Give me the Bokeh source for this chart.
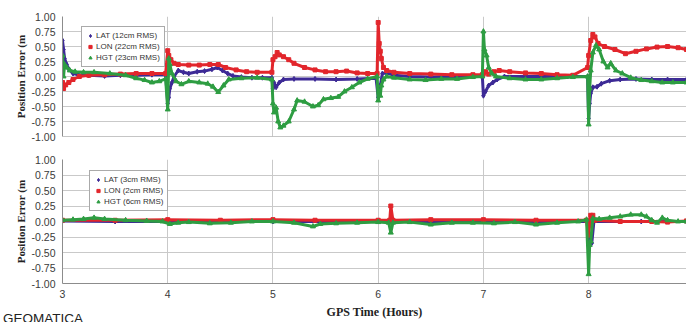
from bokeh.plotting import figure
from bokeh.layouts import column
from bokeh.models import FixedTicker, NumeralTickFormatter, Range1d, Legend, LegendItem, Span, Div
from bokeh.embed import file_html
from bokeh.resources import INLINE

# ---------------- data: top panel ----------------
t_lat_top = [3.00, 3.01, 3.02, 3.04, 3.06, 3.10, 3.15, 3.25, 3.40, 3.55, 3.70, 3.85, 3.98,
             4.00, 4.01, 4.02, 4.04, 4.06, 4.10, 4.15, 4.20, 4.28, 4.35, 4.42, 4.47, 4.52, 4.57, 4.62, 4.70, 4.80, 4.90, 4.99,
             5.00, 5.01, 5.03, 5.06, 5.10, 5.20, 5.40, 5.60, 5.80, 5.98,
             6.00, 6.01, 6.02, 6.04, 6.08, 6.15, 6.30, 6.50, 6.70, 6.90, 6.99,
             7.00, 7.02, 7.05, 7.09, 7.13, 7.20, 7.40, 7.60, 7.80, 7.99,
             8.00, 8.01, 8.02, 8.04, 8.08, 8.12, 8.20, 8.30, 8.45, 8.60, 8.75, 8.93]
lat_top = [0.60, 0.45, 0.30, 0.20, 0.12, 0.05, 0.03, 0.02, 0.01, 0.02, 0.02, 0.03, 0.03,
           -0.45, -0.35, -0.20, -0.10, 0.00, 0.10, 0.07, 0.05, 0.08, 0.09, 0.12, 0.15, 0.10, 0.05, 0.01, -0.01, -0.02, -0.02, -0.02,
           -0.20, -0.10, -0.18, -0.10, -0.05, -0.04, -0.04, -0.05, -0.04, -0.03,
           -0.35, -0.28, -0.15, 0.05, 0.06, 0.02, 0.00, -0.01, 0.00, 0.00, 0.00,
           -0.32, -0.25, -0.15, -0.10, -0.05, 0.00, 0.00, 0.00, 0.00, 0.00,
           -0.70, -0.45, -0.28, -0.18, -0.17, -0.12, -0.07, -0.05, -0.04, -0.05, -0.05, -0.05]

t_lon_top = [3.00, 3.01, 3.03, 3.06, 3.10, 3.16, 3.25, 3.40, 3.55, 3.70, 3.85, 3.98,
             4.00, 4.01, 4.03, 4.06, 4.10, 4.20, 4.30, 4.40, 4.48, 4.55, 4.65, 4.75, 4.85, 4.99,
             5.00, 5.02, 5.04, 5.06, 5.10, 5.15, 5.20, 5.30, 5.40, 5.50, 5.60, 5.70, 5.80, 5.90, 5.99,
             6.00, 6.01, 6.02, 6.03, 6.05, 6.08, 6.15, 6.30, 6.50, 6.70, 6.90, 6.99,
             7.00, 7.02, 7.05, 7.10, 7.15, 7.25, 7.40, 7.55, 7.70, 7.85, 7.99,
             8.00, 8.02, 8.04, 8.06, 8.09, 8.15, 8.25, 8.35, 8.45, 8.55, 8.65, 8.75, 8.85, 8.93]
lon_top = [-0.10, -0.20, -0.14, -0.10, -0.05, 0.00, 0.02, 0.03, 0.04, 0.05, 0.05, 0.05,
           0.43, 0.35, 0.28, 0.22, 0.20, 0.19, 0.19, 0.20, 0.20, 0.15, 0.11, 0.08, 0.07, 0.07,
           0.28, 0.33, 0.40, 0.36, 0.33, 0.28, 0.22, 0.15, 0.11, 0.08, 0.08, 0.09, 0.06, 0.05, 0.05,
           0.90, 0.55, 0.42, 0.30, 0.15, 0.10, 0.07, 0.05, 0.04, 0.03, 0.03, 0.03,
           0.05, 0.08, 0.04, 0.08, 0.10, 0.08, 0.06, 0.05, 0.03, 0.02, 0.15,
           0.35, 0.60, 0.70, 0.66, 0.55, 0.50, 0.45, 0.38, 0.42, 0.46, 0.49, 0.50, 0.48, 0.45]

t_hgt_top = [3.00, 3.01, 3.02, 3.04, 3.07, 3.12, 3.20, 3.30, 3.45, 3.60, 3.70, 3.78, 3.85, 3.92, 3.98,
             4.00, 4.01, 4.02, 4.04, 4.08, 4.13, 4.20, 4.30, 4.38, 4.43, 4.48, 4.53, 4.58, 4.70, 4.85, 4.99,
             5.00, 5.01, 5.03, 5.05, 5.07, 5.10, 5.15, 5.20, 5.23, 5.30, 5.38, 5.43, 5.48, 5.55, 5.62, 5.68, 5.75, 5.82, 5.90, 5.99,
             6.00, 6.01, 6.02, 6.03, 6.05, 6.08, 6.15, 6.30, 6.45, 6.60, 6.75, 6.90, 6.99,
             7.00, 7.01, 7.03, 7.05, 7.08, 7.12, 7.25, 7.40, 7.55, 7.70, 7.85, 7.99,
             8.00, 8.01, 8.02, 8.04, 8.07, 8.10, 8.14, 8.18, 8.21, 8.26, 8.32, 8.40, 8.50, 8.60, 8.70, 8.80, 8.93]
hgt_top = [0.35, 0.00, 0.20, 0.15, 0.10, 0.08, 0.07, 0.07, 0.05, 0.02, -0.03, -0.06, -0.10, -0.08, -0.04,
           -0.55, 0.30, 0.20, 0.05, -0.08, -0.13, -0.08, -0.10, -0.12, -0.17, -0.26, -0.15, -0.05, -0.03, -0.02, -0.05,
           -0.45, -0.60, -0.52, -0.75, -0.85, -0.82, -0.75, -0.55, -0.40, -0.42, -0.50, -0.48, -0.38, -0.36, -0.34, -0.25, -0.18, -0.10, -0.04, 0.00,
           -0.40, -0.25, -0.32, -0.15, -0.05, 0.00, -0.02, -0.05, -0.06, -0.04, -0.04, -0.01, 0.00,
           0.75, 0.45, 0.35, 0.15, 0.05, 0.00, -0.03, -0.05, -0.05, -0.03, -0.01, 0.00,
           -0.80, -0.20, 0.10, 0.40, 0.52, 0.45, 0.25, 0.15, 0.22, 0.10, 0.05, -0.02, -0.06, -0.08, -0.10, -0.10, -0.10]

# ---------------- data: bottom panel ----------------
t_lat_bot = [3.00, 3.50, 4.00, 4.50, 5.00, 5.50, 6.00, 6.50, 7.00, 7.50, 7.99, 8.01, 8.02, 8.03, 8.05, 8.50, 8.93]
lat_bot = [0.01, 0.00, 0.00, 0.00, 0.00, 0.00, 0.00, 0.00, 0.00, 0.00, 0.00, -0.32, -0.28, -0.35, 0.00, 0.00, 0.00]

t_lon_bot = [3.00, 3.50, 4.00, 4.50, 5.00, 5.40, 6.00, 6.11, 6.12, 6.14, 6.50, 7.00, 7.50, 7.98,
             8.00, 8.02, 8.04, 8.06, 8.30, 8.60, 8.75, 8.93]
lon_bot = [0.02, 0.02, 0.03, 0.02, 0.03, 0.02, 0.02, 0.02, 0.25, 0.02, 0.03, 0.03, 0.02, 0.02,
           -0.22, 0.10, 0.10, 0.02, 0.00, 0.00, -0.01, 0.01]

t_hgt_bot = [3.00, 3.10, 3.20, 3.30, 3.40, 3.60, 3.80, 3.95, 4.02, 4.10, 4.20, 4.40, 4.60, 4.80, 5.00,
             5.20, 5.38, 5.45, 5.60, 5.80, 6.00, 6.10, 6.12, 6.14, 6.30, 6.50, 6.70, 6.90, 7.10, 7.30,
             7.50, 7.70, 7.90, 7.98, 8.00, 8.01, 8.02, 8.04, 8.10, 8.20, 8.30, 8.40, 8.50, 8.55, 8.60,
             8.65, 8.70, 8.75, 8.85, 8.93]
hgt_bot = [0.02, 0.03, 0.04, 0.06, 0.04, 0.02, 0.01, 0.00, -0.04, -0.02, -0.01, -0.03, -0.02, 0.00, 0.00,
           -0.02, -0.08, -0.04, -0.03, -0.02, -0.01, -0.02, -0.18, -0.02, -0.01, -0.05, -0.02, -0.02, -0.03, -0.01,
           -0.05, -0.02, 0.00, 0.03, -0.85, -0.38, -0.32, 0.05, 0.04, 0.06, 0.08, 0.11, 0.11, 0.08, 0.02,
           -0.02, 0.06, 0.02, 0.00, 0.00]

labels_top = ["LAT (12cm RMS)", "LON (22cm RMS)", "HGT (23cm RMS)"]
labels_bot = ["LAT (3cm RMS)", "LON (2cm RMS)", "HGT (6cm RMS)"]
x_ticks = [3, 4, 5, 6, 7, 8, 9]
y_ticks = [-1.0, -0.75, -0.5, -0.25, 0.0, 0.25, 0.5, 0.75, 1.0]

C_LAT = "#3d2a96"
C_LON = "#e2262c"
C_HGT = "#2e9d42"
GRID = "#c9c9c9"
AXIS = "#8c8c8c"


def make_panel(height, top, bottom, series, labels, leg_xy, show_x):
    p = figure(width=686, height=height, output_backend="svg", toolbar_location=None,
               x_range=Range1d(3, 8.93), y_range=Range1d(-1.0, 1.0),
               min_border_left=62, min_border_right=0, min_border_top=top, min_border_bottom=bottom)
    p.outline_line_color = None
    p.background_fill_color = "white"
    p.border_fill_color = "white"
    p.xaxis.ticker = FixedTicker(ticks=x_ticks)
    p.yaxis.ticker = FixedTicker(ticks=y_ticks)
    p.yaxis.formatter = NumeralTickFormatter(format="0.00")
    for ax in (p.xaxis[0], p.yaxis[0]):
        ax.axis_line_color = AXIS
        ax.axis_line_width = 1
        ax.major_tick_line_color = None
        ax.minor_tick_line_color = None
        ax.major_tick_out = 0
        ax.major_tick_in = 0
        ax.minor_tick_out = 0
        ax.minor_tick_in = 0
        ax.major_label_text_font = "Liberation Sans"
        ax.major_label_text_font_size = "10.5px"
        ax.major_label_text_color = "#3a3a3a"
    p.yaxis.major_label_standoff = 7
    p.yaxis.axis_label = "Position Error (m"
    p.yaxis.axis_label_text_font = "Liberation Serif"
    p.yaxis.axis_label_text_font_style = "bold"
    p.yaxis.axis_label_text_font_size = "11px"
    p.yaxis.axis_label_text_color = "#222222"
    p.yaxis.axis_label_standoff = 2
    if show_x:
        p.xaxis.major_label_standoff = 6
        p.xaxis.axis_label = "GPS Time (Hours)"
        p.xaxis.axis_label_text_font = "Liberation Serif"
        p.xaxis.axis_label_text_font_style = "bold"
        p.xaxis.axis_label_text_font_size = "12px"
        p.xaxis.axis_label_text_color = "#222222"
        p.xaxis.axis_label_standoff = 4
    else:
        p.xaxis.visible = False
        p.add_layout(Span(location=-1.0, dimension="width", line_color=AXIS, line_width=1))
    p.xgrid.grid_line_color = GRID
    p.ygrid.grid_line_color = GRID
    p.xgrid.ticker = FixedTicker(ticks=x_ticks)
    p.ygrid.ticker = FixedTicker(ticks=y_ticks)

    items = []
    markers = ["diamond", "square", "triangle"]
    sizes = [5, 4, 5]
    colors = [C_LAT, C_LON, C_HGT]
    for (tt, vv), lab, mk, sz, col in zip(series, labels, markers, sizes, colors):
        p.line(tt, vv, line_color=col, line_width=3)
        r = p.scatter(tt, vv, marker=mk, size=sz, fill_color=col, line_color=col)
        items.append(LegendItem(label=lab, renderers=[r]))
    leg = Legend(items=items, location=leg_xy)
    leg.label_text_font = "Liberation Sans"
    leg.label_text_font_size = "8px"
    leg.label_text_color = "#333333"
    leg.label_height = 9
    leg.label_standoff = 2
    leg.glyph_width = 8
    leg.glyph_height = 9
    leg.spacing = 2
    leg.padding = 4
    leg.margin = 0
    leg.border_line_color = "#555555"
    leg.border_line_width = 1
    leg.background_fill_alpha = 1
    p.add_layout(leg, "center")
    return p


p1 = make_panel(152, 16, 16,
                [(t_lat_top, lat_top), (t_lon_top, lon_top), (t_hgt_top, hgt_top)],
                labels_top, (19, 69), False)
p2 = make_panel(169, 7, 37,
                [(t_lat_bot, lat_bot), (t_lon_bot, lon_bot), (t_hgt_bot, hgt_bot)],
                labels_bot, (27, 72), True)

note = Div(text="GEOMATICA", width=95, height=12,
           styles={"position": "absolute", "left": "-2px", "top": "304px",
                   "font-family": "Liberation Sans", "font-size": "13.5px", "color": "#222222"})

layout = column(p1, p2, note, spacing=0)
open("out.html", "w").write(file_html(layout, INLINE))
